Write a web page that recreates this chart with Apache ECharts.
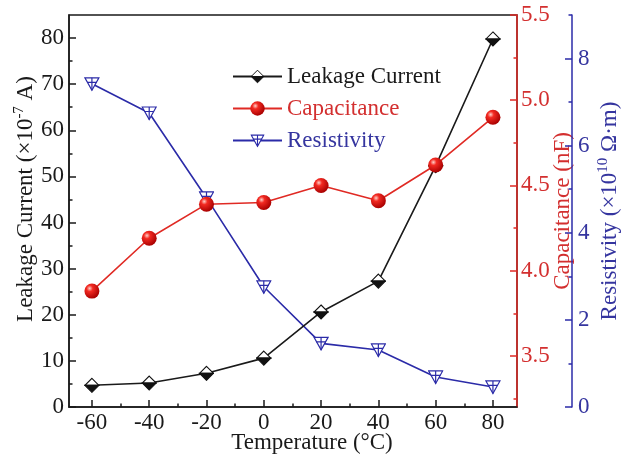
<!DOCTYPE html>
<html>
<head>
<meta charset="utf-8">
<script src="https://cdn.jsdelivr.net/npm/echarts@6/dist/echarts.min.js"></script>
<style>
  html, body { margin: 0; padding: 0; background: #fff; }
  #chart { width: 622px; height: 455px; }
</style>
</head>
<body>
<div id="chart"></div>
<script>
// Measured values at each temperature
const temperature    = [-60, -40, -20, 0, 20, 40, 60, 80];
const leakageCurrent = [4.7, 5.2, 7.3, 10.6, 20.6, 27.3, 52.3, 79.8];   // ×10^-7 A
const capacitance    = [3.88, 4.19, 4.39, 4.40, 4.50, 4.41, 4.62, 4.90]; // nF
const resistivity    = [7.42, 6.75, 4.80, 2.76, 1.46, 1.31, 0.69, 0.46]; // ×10^10 Ω·m

// Tick positions for each axis
const xMajorTicks    = [-60, -40, -20, 0, 20, 40, 60, 80];
const xMinorTicks    = [-50, -30, -10, 10, 30, 50, 70];
const leakMajorTicks = [0, 10, 20, 30, 40, 50, 60, 70, 80];
const leakMinorTicks = [5, 15, 25, 35, 45, 55, 65, 75];
const capMajorTicks  = [3.5, 4.0, 4.5, 5.0, 5.5];
const capMinorTicks  = [3.25, 3.75, 4.25, 4.75, 5.25];
const resMajorTicks  = [0, 2, 4, 6, 8];
const resMinorTicks  = [1, 3, 5, 7, 9];

const FONT = 'Liberation Serif, "Times New Roman", serif';
const FS = 23;
const BLACK = '#1a1a1a';
const RED = '#e02a24';
const RED_TEXT = '#d32f2f';
const BLUE = '#2b2ba8';
const BLUE_TEXT = '#35359f';

function svgSymbol(svg) {
  return 'image://data:image/svg+xml;utf8,' + encodeURIComponent(svg);
}
// half-open diamond: white upper half, black lower half
const diamondSymbol = svgSymbol(
  "<svg xmlns='http://www.w3.org/2000/svg' width='32' height='32' viewBox='0 0 32 32'>" +
  "<path d='M16 2 L30 16 L2 16 Z' fill='#fff' stroke='#111' stroke-width='2.2' stroke-linejoin='miter'/>" +
  "<path d='M2 16 L30 16 L16 30 Z' fill='#111' stroke='#111' stroke-width='2.2'/>" +
  "</svg>");
// downward triangle with a cross inside
const crossTriangleSymbol = svgSymbol(
  "<svg xmlns='http://www.w3.org/2000/svg' width='32' height='32' viewBox='0 0 32 32'>" +
  "<path d='M2 4 L30 4 L16 29 Z' fill='#fff' stroke='" + BLUE + "' stroke-width='2.4'/>" +
  "<path d='M16 4 L16 29 M6.5 13 L25.5 13' fill='none' stroke='" + BLUE + "' stroke-width='2.4'/>" +
  "</svg>");

const sphereColor = new echarts.graphic.RadialGradient(0.35, 0.32, 0.7, [
  { offset: 0, color: '#ffd0c8' },
  { offset: 0.3, color: '#f32a22' },
  { offset: 1, color: '#a80000' }
]);

const pairs = (vals) => temperature.map((t, i) => [t, vals[i]]);

function majorAxis(extra) {
  return Object.assign({
    type: 'value',
    nameMoveOverlap: false,
    splitLine: { show: false }
  }, extra);
}
function minorAxis(extra) {
  return Object.assign({
    type: 'value',
    splitLine: { show: false },
    axisLine: { show: false, onZero: false },
    axisLabel: { show: false }
  }, extra);
}

const chart = echarts.init(document.getElementById('chart'), null, { renderer: 'canvas' });
chart.setOption({
  animation: false,
  backgroundColor: '#fff',
  grid: {
    left: 69, right: 105, top: 15, bottom: 48,
    outerBoundsMode: 'none', containLabel: false,
    show: true, borderColor: BLACK, borderWidth: 1.5
  },
  legend: {
    orient: 'vertical',
    left: 227, top: 60,
    itemWidth: 49, itemHeight: 18, itemGap: 9,
    textStyle: { fontFamily: FONT, fontSize: FS },
    data: [
      { name: 'Leakage Current', textStyle: { color: BLACK } },
      { name: 'Capacitance', textStyle: { color: RED_TEXT } },
      { name: 'Resistivity', textStyle: { color: BLUE_TEXT } }
    ]
  },
  xAxis: [
    majorAxis({
      min: -68, max: 88.4, position: 'bottom',
      axisLine: { onZero: false, lineStyle: { color: BLACK, width: 1.5 } },
      axisTick: { inside: true, length: 7, customValues: xMajorTicks, lineStyle: { color: BLACK, width: 1.5 } },
      axisLabel: { customValues: xMajorTicks, fontFamily: FONT, fontSize: FS, color: BLACK, margin: 4 },
      name: 'Temperature (°C)',
      nameLocation: 'middle', nameGap: 24,
      nameTextStyle: { fontFamily: FONT, fontSize: FS, color: BLACK, padding: [0, 0, 0, 38] }
    }),
    minorAxis({
      min: -68, max: 88.4, position: 'bottom',
      axisTick: { inside: true, length: 3.5, customValues: xMinorTicks, lineStyle: { color: BLACK, width: 1.5 } }
    })
  ],
  yAxis: [
    majorAxis({
      min: 0, max: 85, position: 'left',
      axisLine: { show: true, onZero: false, lineStyle: { color: BLACK, width: 1.5 } },
      axisTick: { inside: true, length: 7, customValues: leakMajorTicks, lineStyle: { color: BLACK, width: 1.5 } },
      axisLabel: { customValues: leakMajorTicks, fontFamily: FONT, fontSize: FS, color: BLACK, margin: 5 },
      name: '{t|Leakage Current (×10}{s|-7}{t| A)}',
      nameLocation: 'middle', nameGap: 30, nameRotate: 90,
      nameTextStyle: {
        padding: [0, 0, 0, 24],
        rich: {
          t: { fontFamily: FONT, fontSize: FS, color: BLACK, lineHeight: 27 },
          s: { fontFamily: FONT, fontSize: 15, color: BLACK, verticalAlign: 'top', lineHeight: 27 }
        }
      }
    }),
    minorAxis({
      min: 0, max: 85, position: 'left',
      axisTick: { inside: true, length: 3.5, customValues: leakMinorTicks, lineStyle: { color: BLACK, width: 1.5 } }
    }),
    majorAxis({
      min: 3.2, max: 5.5, position: 'right', offset: 0,
      axisLine: { show: true, onZero: false, lineStyle: { color: RED, width: 1.5 } },
      axisTick: { inside: true, length: 7, customValues: capMajorTicks, lineStyle: { color: RED, width: 1.5 } },
      axisLabel: {
        customValues: capMajorTicks, fontFamily: FONT, fontSize: FS, color: RED_TEXT, margin: 4,
        formatter: (v) => v.toFixed(1)
      },
      name: 'Capacitance (nF)',
      nameLocation: 'middle', nameGap: 34, nameRotate: 90,
      nameTextStyle: { fontFamily: FONT, fontSize: FS, color: RED_TEXT }
    }),
    minorAxis({
      min: 3.2, max: 5.5, position: 'right', offset: 0,
      axisTick: { inside: true, length: 3.5, customValues: capMinorTicks, lineStyle: { color: RED, width: 1.5 } }
    }),
    majorAxis({
      min: 0, max: 9, position: 'right', offset: 55,
      axisLine: { show: true, onZero: false, lineStyle: { color: BLUE, width: 1.5 } },
      axisTick: { inside: true, length: 7, customValues: resMajorTicks, lineStyle: { color: BLUE, width: 1.5 } },
      axisLabel: { customValues: resMajorTicks, fontFamily: FONT, fontSize: FS, color: BLUE_TEXT, margin: 6 },
      name: '{t|Resistivity (×10}{s|10}{t| Ω·m)}',
      nameLocation: 'middle', nameGap: 24, nameRotate: 90,
      nameTextStyle: {
        rich: {
          t: { fontFamily: FONT, fontSize: FS, color: BLUE_TEXT, lineHeight: 27 },
          s: { fontFamily: FONT, fontSize: 15, color: BLUE_TEXT, verticalAlign: 'top', lineHeight: 27 }
        }
      }
    }),
    minorAxis({
      min: 0, max: 9, position: 'right', offset: 55,
      axisTick: { inside: true, length: 3.5, customValues: resMinorTicks, lineStyle: { color: BLUE, width: 1.5 } }
    })
  ],
  series: [
    {
      name: 'Leakage Current', type: 'line', xAxisIndex: 0, yAxisIndex: 0,
      data: pairs(leakageCurrent),
      symbol: diamondSymbol, symbolSize: 16,
      lineStyle: { color: BLACK, width: 1.6 },
      itemStyle: { color: BLACK },
      z: 3
    },
    {
      name: 'Resistivity', type: 'line', xAxisIndex: 0, yAxisIndex: 4,
      data: pairs(resistivity),
      symbol: crossTriangleSymbol, symbolSize: 16,
      lineStyle: { color: BLUE, width: 1.6 },
      itemStyle: { color: BLUE },
      z: 2
    },
    {
      name: 'Capacitance', type: 'line', xAxisIndex: 0, yAxisIndex: 2,
      data: pairs(capacitance),
      symbol: 'circle', symbolSize: 15,
      lineStyle: { color: RED, width: 1.6 },
      itemStyle: { color: sphereColor, borderWidth: 0 },
      z: 4
    }
  ]
});
</script>
</body>
</html>
